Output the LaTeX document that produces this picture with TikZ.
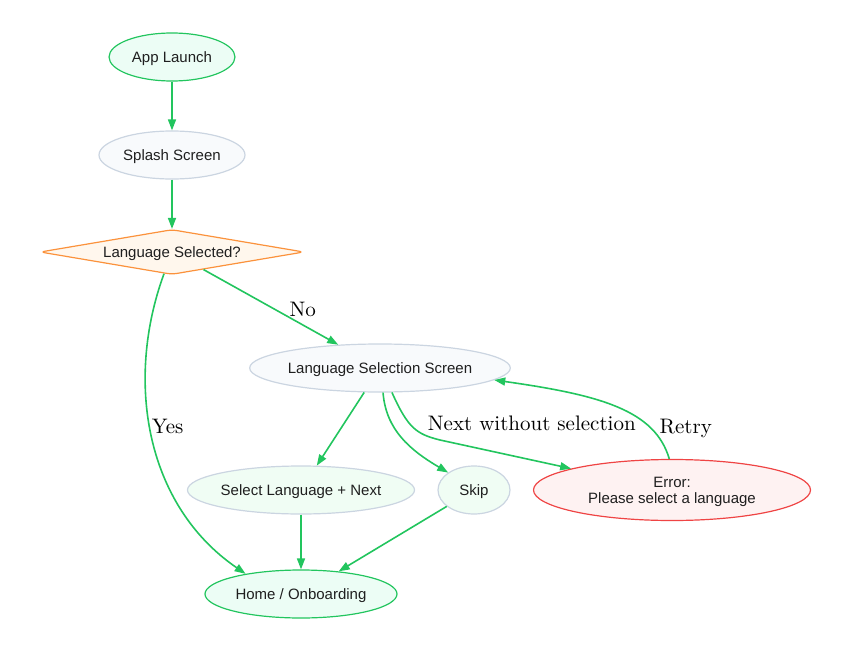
\documentclass[tikz,border=0pt]{standalone}
\usepackage{fontspec}
\setsansfont{Liberation Sans}
\newfontfamily\lblfont[Extension=.otf]{lmroman10-regular}
\usetikzlibrary{shapes.geometric,arrows.meta}
\definecolor{edgeg}{HTML}{22C55E}
\definecolor{mintfill}{HTML}{ECFDF5}
\definecolor{lgreenfill}{HTML}{F0FDF4}
\definecolor{slatefill}{HTML}{F8FAFC}
\definecolor{slateline}{HTML}{CBD5E1}
\definecolor{orangeline}{HTML}{FB923C}
\definecolor{orangefill}{HTML}{FFF7ED}
\definecolor{redline}{HTML}{EF4444}
\definecolor{redfill}{HTML}{FEF2F2}
\definecolor{txt}{HTML}{1F1F1F}
\begin{document}
\begin{tikzpicture}[x=1pt,y=-1pt,
  basenode/.style={ellipse, inner sep=0pt, line width=1.2pt, text=txt,
    font=\sffamily\fontsize{15}{16}\selectfont, align=center, text depth=0pt},
  startnode/.style={basenode, draw=edgeg, fill=mintfill},
  screennode/.style={basenode, draw=slateline, fill=slatefill},
  choicenode/.style={basenode, draw=slateline, fill=lgreenfill},
  errnode/.style={basenode, draw=redline, fill=redfill},
  decnode/.style={diamond, inner sep=0pt, line width=1.2pt, rounded corners=5pt,
    draw=orangeline, fill=orangefill, text=txt, aspect=6,
    font=\sffamily\fontsize{15}{16}\selectfont, text depth=0pt},
  flow/.style={draw=edgeg, line width=1.6pt, -{Triangle[length=11pt,width=8pt]}},
  lbl/.style={font=\lblfont\fontsize{21}{24}\selectfont, inner sep=0pt, text=black}
]
\useasboundingbox (0,0) rectangle (844,653);

\node[startnode, minimum width=126pt, minimum height=48pt] (app) at (172,57) {App Launch};
\node[screennode, minimum width=146pt, minimum height=48pt] (splash) at (172,155) {Splash Screen};
\node[decnode, minimum width=264pt, minimum height=45pt] (dec) at (172,252) {Language Selected?};
\node[screennode, minimum width=256pt, minimum height=48pt] (lss) at (380,368) {Language Selection Screen};
\node[choicenode, minimum width=226pt, minimum height=48pt] (sel) at (301,490) {Select Language + Next};
\node[choicenode, minimum width=72pt, minimum height=48pt] (skip) at (474,490) {Skip};
\node[errnode, minimum width=277pt, minimum height=61pt] (err) at (672,490) {Error:\\Please select a language};
\node[startnode, minimum width=192pt, minimum height=48pt] (home) at (301,594) {Home / Onboarding};

\draw[flow] (app) -- (splash);
\draw[flow] (splash) -- (dec);
\draw[flow] (dec) -- node[lbl, pos=0.737, yshift=15pt] {No} (lss);
\draw[flow] (dec) .. controls (125,380) and (145,505) .. node[lbl, pos=0.465, anchor=west, xshift=1pt] {Yes} (home.160);
\draw[flow] (lss) -- (sel);
\draw[flow] (lss.-83) .. controls (386,430) and (410,450) .. (skip.146);
\draw[flow] (lss.-64) .. controls (408,428) and (416,434) .. (440,440) -- node[lbl, pos=0.70, yshift=37pt] {Next without selection} (err.168);
\draw[flow] (err.95) .. controls (655,410) and (600,395) .. node[lbl, pos=0.25, anchor=west, xshift=8pt] {Retry} (lss.-6);
\draw[flow] (sel) -- (home);
\draw[flow] (skip) -- (home);
\end{tikzpicture}
\end{document}
